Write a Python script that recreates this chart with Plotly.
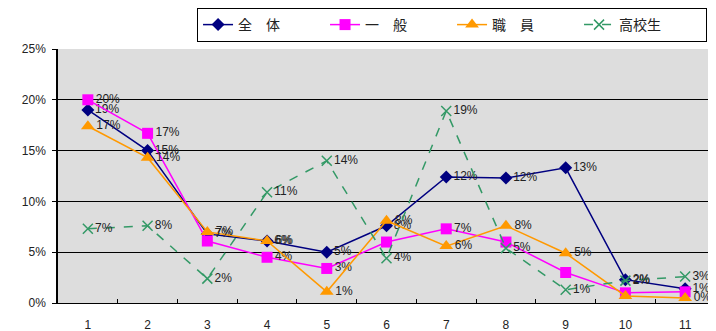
import plotly.graph_objects as go

categories = ["1", "2", "3", "4", "5", "6", "7", "8", "9", "10", "11"]

overall = [19.0, 15.0, 6.8, 6.1, 5.0, 7.6, 12.4, 12.3, 13.3, 2.3, 1.4]
general = [20.0, 16.7, 6.1, 4.5, 3.4, 6.0, 7.3, 6.0, 3.0, 1.0, 1.1]
staff = [17.4, 14.3, 7.0, 6.1, 1.1, 8.1, 5.6, 7.6, 4.9, 0.7, 0.5]
highschool = [7.3, 7.6, 2.4, 10.9, 14.0, 4.4, 18.9, 5.4, 1.3, 2.2, 2.6]

overall_labels = ["19%", "15%", "7%", "6%", "5%", "8%", "12%", "12%", "13%", "2%", "1%"]
general_labels = ["20%", "17%", "", "4%", "3%", "", "7%", "", "", "", ""]
staff_labels = ["17%", "14%", "7%", "6%", "1%", "8%", "6%", "8%", "5%", "", "0%"]
highschool_labels = ["7%", "8%", "2%", "11%", "14%", "4%", "19%", "5%", "1%", "2%", "3%"]

series_names = ["全　体", "一　般", "職　員", "高校生"]

label_font = dict(family="Liberation Sans, Arial, sans-serif", size=12, color="#222222")

fig = go.Figure()
fig.add_trace(go.Scatter(
    x=categories, y=overall, name=series_names[0], mode="lines+markers+text",
    text=overall_labels, textposition="middle right", textfont=label_font,
    line=dict(color="#000080", width=1.5),
    marker=dict(symbol="diamond", size=10, color="#000080"),
))
fig.add_trace(go.Scatter(
    x=categories, y=general, name=series_names[1], mode="lines+markers+text",
    text=general_labels, textposition="middle right", textfont=label_font,
    line=dict(color="#FF00FF", width=1.5),
    marker=dict(symbol="square", size=11, color="#FF00FF"),
))
fig.add_trace(go.Scatter(
    x=categories, y=staff, name=series_names[2], mode="lines+markers+text",
    text=staff_labels, textposition="middle right", textfont=label_font,
    line=dict(color="#FF9900", width=1.5),
    marker=dict(symbol="triangle-up", size=12, color="#FF9900"),
))
fig.add_trace(go.Scatter(
    x=categories, y=highschool, name=series_names[3], mode="lines+markers+text",
    text=highschool_labels, textposition="middle right", textfont=label_font,
    line=dict(color="#339966", width=1.5, dash="dash"),
    marker=dict(symbol="x-thin", size=10, color="#339966",
                line=dict(color="#339966", width=1.5)),
))

# page body has an 8px margin, so the figure is sized and offset to compensate
fig.update_layout(
    width=708, height=323,
    margin=dict(l=50, r=1, t=41, b=28, autoexpand=False),
    paper_bgcolor="white",
    plot_bgcolor="#DDDDDD",
    font=dict(family="Liberation Sans, Arial, sans-serif", size=12, color="#222222"),
    showlegend=True,
    legend=dict(
        orientation="h", xref="container", yref="container",
        x=0.267, y=1.0, xanchor="left", yanchor="top",
        bgcolor="white", bordercolor="black", borderwidth=1,
        font=dict(family="Noto Sans CJK JP, sans-serif", size=14, color="#222222"),
        itemwidth=30, tracegroupgap=0,
        entrywidth=82, entrywidthmode="pixels",
    ),
    xaxis=dict(
        type="category", showgrid=False, showline=True, linecolor="black", linewidth=1,
        ticks="inside", tickson="boundaries", ticklen=4, tickcolor="black",
        range=[-0.5, 10.5], ticklabelstandoff=11, automargin=False,
    ),
    yaxis=dict(
        range=[0, 25], dtick=5, ticksuffix="%", showgrid=True, gridcolor="black", gridwidth=1,
        showline=True, linecolor="black", linewidth=1.5, ticks="outside", ticklen=4,
        tickcolor="black", zeroline=False, ticklabelstandoff=4, automargin=False,
    ),
)

fig.write_html("out.html")
